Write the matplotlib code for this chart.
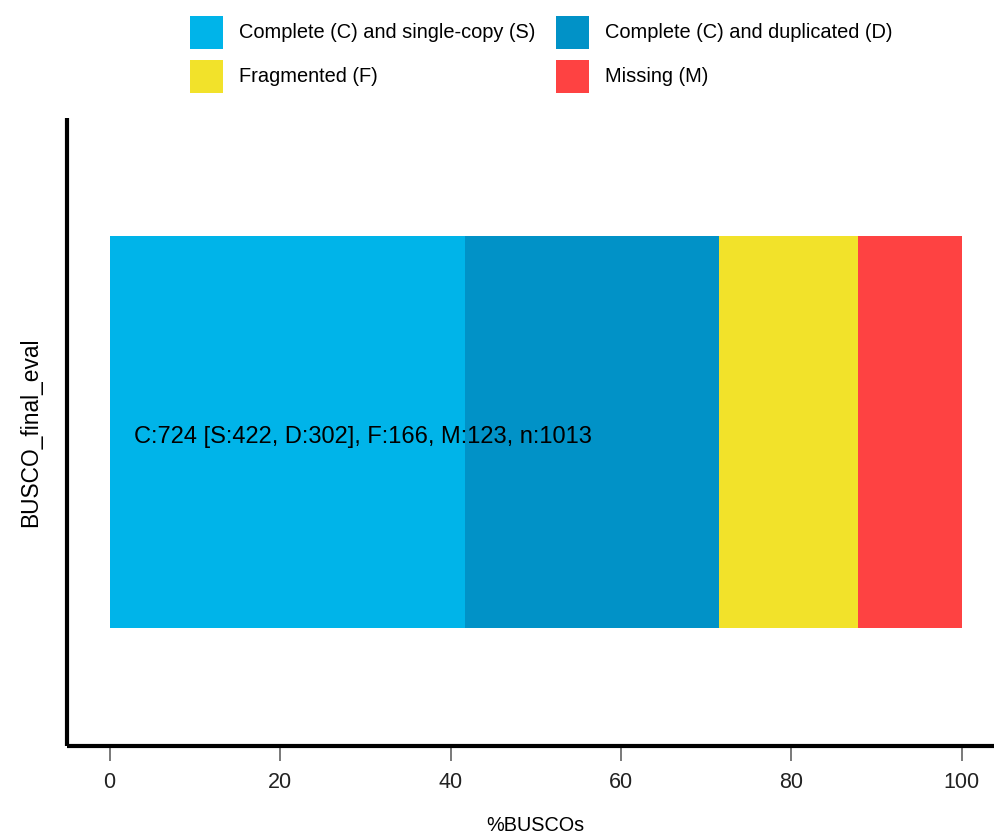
import numpy as np
import matplotlib
matplotlib.use("Agg")
import matplotlib.pyplot as plt
from matplotlib.patches import Rectangle

plt.rcParams["font.family"] = ["Liberation Sans", "DejaVu Sans"]

# ── Data ───────────────────────────────────────────────────────────────────
run_name   = "BUSCO_final_eval"
categories = ["Complete (C) and single-copy (S)", "Complete (C) and duplicated (D)",
              "Fragmented (F)", "Missing (M)"]
counts     = [422, 302, 166, 123]
n_total    = 1013
colors     = ["#00B4E9", "#0192C7", "#F2E22A", "#FE4242"]
x_ticks    = [0, 20, 40, 60, 80, 100]

W, H = 995, 836
pct = np.array(counts) / n_total * 100
lefts = np.concatenate([[0], np.cumsum(pct)[:-1]])

fig = plt.figure(figsize=(W / 100, H / 100), dpi=100)
ax = fig.add_axes([0.0673, 0.1077, 0.9423, 0.7512])

for p, l, c in zip(pct, lefts, colors):
    ax.barh(1, p, left=l, height=0.75, color=c, linewidth=0)

summary = (f"C:{counts[0] + counts[1]} [S:{counts[0]}, D:{counts[1]}], "
           f"F:{counts[2]}, M:{counts[3]}, n:{n_total}")
ax.text(2.9, 0.99, summary, fontsize=17, va="center", ha="left", color="black")

ax.set_xlim(-5, 105)
ax.set_ylim(0.4, 1.6)
ax.set_xticks(x_ticks)
ax.set_xticklabels([str(t) for t in x_ticks], fontsize=15.5, color="#222222")
ax.tick_params(axis="x", length=11, width=1.1, color="#555555", pad=8)
ax.set_yticks([])

ax.set_xlabel("%BUSCOs", fontsize=14.3)
ax.xaxis.set_label_coords(0.5, -0.1354)
ax.xaxis.label.set_va("baseline")
ax.set_ylabel(run_name, fontsize=16.4)
ax.yaxis.set_label_coords(-0.0384, 0.5)
ax.yaxis.label.set_va("center")

for s in ["top", "right"]:
    ax.spines[s].set_visible(False)
for s in ["left", "bottom"]:
    ax.spines[s].set_linewidth(3)
    ax.spines[s].set_capstyle("butt")

# ── Legend: two rows (S, D / F, M), drawn in pixel units of the figure ────
key_x   = [190, 556]   # left edge of each legend column
key_y   = [16, 60]     # top edge of each legend row
key_sz  = 33
for i, (lab, c) in enumerate(zip(categories, colors)):
    col, row = i % 2, i // 2
    x0, y0 = key_x[col], key_y[row]
    fig.add_artist(Rectangle((x0 / W, 1 - (y0 + key_sz) / H), key_sz / W, key_sz / H,
                             transform=fig.transFigure, facecolor=c, edgecolor="none"))
    fig.text((x0 + key_sz + 16) / W, 1 - (y0 + key_sz / 2) / H, lab,
             fontsize=14.4, va="center", ha="left")

fig.savefig("out.png", dpi=100)
